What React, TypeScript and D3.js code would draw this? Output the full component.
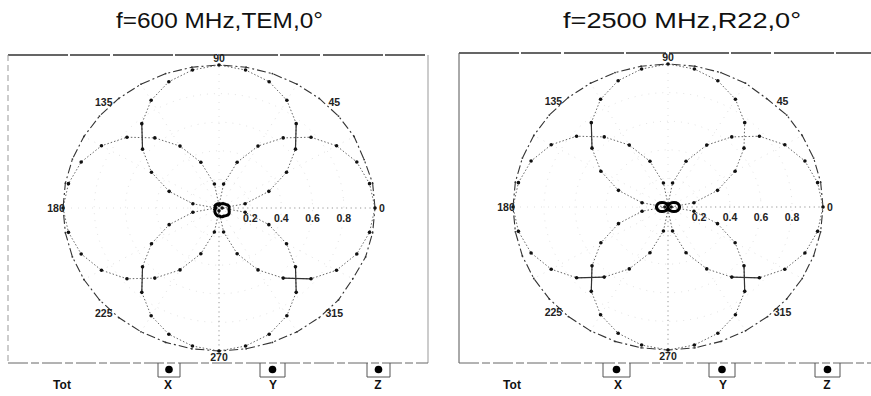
import React from "react";
import * as d3 from "d3";

const ANGLES = [0, 10, 20, 30, 40, 50, 60, 70, 80, 90, 100, 110, 120, 130, 140, 150, 160, 170,
  180, 190, 200, 210, 220, 230, 240, 250, 260, 270, 280, 290, 300, 310, 320, 330, 340, 350];

const TOT_600 = [1.0, 1.0, 0.99, 1.0, 1.0, 1.0, 1.0, 1.0, 1.0, 1.0, 1.0, 1.0, 1.0, 1.0, 1.0, 1.0, 1.0, 1.0,
  1.0, 1.0, 1.0, 1.0, 1.0, 1.0, 1.0, 1.0, 1.0, 1.0, 1.0, 1.0, 1.0, 1.0, 1.0, 0.99, 1.0, 1.0];
const X_600 = [1.0, 0.98, 0.94, 0.87, 0.77, 0.64, 0.5, 0.34, 0.17, 0.02, 0.17, 0.34, 0.5, 0.64, 0.77, 0.87, 0.94, 0.98,
  1.0, 0.98, 0.94, 0.87, 0.77, 0.64, 0.5, 0.34, 0.17, 0.02, 0.17, 0.34, 0.5, 0.64, 0.77, 0.87, 0.94, 0.98];
const Y_600 = [0.02, 0.17, 0.34, 0.5, 0.64, 0.77, 0.87, 0.94, 0.98, 1.0, 0.98, 0.94, 0.87, 0.77, 0.64, 0.5, 0.34, 0.17,
  0.02, 0.17, 0.34, 0.5, 0.64, 0.77, 0.87, 0.94, 0.98, 1.0, 0.98, 0.94, 0.87, 0.77, 0.64, 0.5, 0.34, 0.17];
const Z_600 = [0.065, 0.065, 0.06, 0.05, 0.045, 0.04, 0.035, 0.03, 0.03, 0.03, 0.03, 0.03, 0.03, 0.03, 0.03, 0.03, 0.025, 0.025,
  0.025, 0.025, 0.03, 0.03, 0.035, 0.04, 0.045, 0.05, 0.055, 0.055, 0.06, 0.065, 0.065, 0.07, 0.075, 0.075, 0.07, 0.065];

const TOT_2500 = [1.0, 1.0, 1.0, 1.0, 1.0, 0.99, 1.0, 1.0, 1.0, 1.0, 1.0, 1.0, 1.0, 1.0, 1.0, 1.0, 1.0, 1.0,
  1.0, 1.0, 1.0, 1.0, 1.0, 1.0, 1.0, 1.0, 1.0, 1.0, 1.0, 1.0, 1.0, 1.0, 1.0, 1.0, 1.0, 1.0];
const X_2500 = [1.0, 0.98, 0.94, 0.87, 0.77, 0.64, 0.5, 0.34, 0.17, 0.02, 0.17, 0.34, 0.5, 0.64, 0.77, 0.87, 0.94, 0.98,
  1.0, 0.98, 0.94, 0.87, 0.77, 0.64, 0.5, 0.34, 0.17, 0.02, 0.17, 0.34, 0.5, 0.64, 0.77, 0.87, 0.94, 0.98];
const Y_2500 = [0.02, 0.17, 0.34, 0.5, 0.64, 0.77, 0.87, 0.94, 0.98, 1.0, 0.98, 0.94, 0.87, 0.77, 0.64, 0.5, 0.34, 0.17,
  0.02, 0.17, 0.34, 0.5, 0.64, 0.77, 0.87, 0.94, 0.98, 1.0, 0.98, 0.94, 0.87, 0.77, 0.64, 0.5, 0.34, 0.17];
const Z_2500 = [0.075, 0.073, 0.068, 0.06, 0.05, 0.04, 0.03, 0.02, 0.01, 0.004, 0.01, 0.02, 0.03, 0.04, 0.05, 0.06, 0.068, 0.073,
  0.075, 0.073, 0.068, 0.06, 0.05, 0.04, 0.03, 0.02, 0.01, 0.004, 0.01, 0.02, 0.03, 0.04, 0.05, 0.06, 0.068, 0.073];

// angular spans (start angle index) drawn as solid strokes in the scan
const SOLID_X_600 = [31];
const SOLID_Y_600 = [4, 13, 22, 31];
const SOLID_X_2500 = [22, 31];
const SOLID_Y_2500 = [13, 22, 31];

const ANGLE_LABELS = [0, 45, 90, 135, 180, 225, 270, 315];
const RADIAL_TICKS = [0.2, 0.4, 0.6, 0.8];
const GRID_RINGS = [0.2, 0.4, 0.6, 0.8];
const SPOKES = [0, 30, 60, 90, 120, 150, 180, 210, 240, 270, 300, 330];
const TITLES = ["f=600 MHz,TEM,0°", "f=2500 MHz,R22,0°"];
const LEGEND_LABELS = ["Tot", "X", "Y", "Z"];

type PanelProps = {
  title: string;
  tot: number[];
  xs: number[];
  ys: number[];
  zs: number[];
  solidX: number[];
  solidY: number[];
  cx: number;
  cy: number;
  rx: number;
  ry: number;
  frame: [number, number, number, number];
  leftSolid: boolean;
  titleX: number;
  titleLen: number;
  legendX: number[];
  boxes: [number, number][];
};

const FONT = "'Liberation Sans', Arial, sans-serif";

function Panel(p: PanelProps) {
  const ang = d3.scaleLinear().domain([0, 360]).range([0, 2 * Math.PI]);
  const sx = d3.scaleLinear().domain([0, 1]).range([0, p.rx]);
  const sy = d3.scaleLinear().domain([0, 1]).range([0, p.ry]);
  const px = (a: number, r: number) => p.cx + sx(r) * Math.cos(ang(a));
  const py = (a: number, r: number) => p.cy - sy(r) * Math.sin(ang(a));
  const line = d3
    .line<[number, number]>()
    .x((d) => px(d[0], d[1]))
    .y((d) => py(d[0], d[1]))
    .curve(d3.curveLinearClosed);
  const openLine = d3
    .line<[number, number]>()
    .x((d) => px(d[0], d[1]))
    .y((d) => py(d[0], d[1]));
  const pts = (vals: number[]) => ANGLES.map((a, i) => [a, vals[i]] as [number, number]);
  const ringLine = (r: number) =>
    d3
      .line<number>()
      .x((a) => px(a, r))
      .y((a) => py(a, r))
      .curve(d3.curveCardinalClosed)(d3.range(0, 360, 5));

  const [fx0, fy0, fx1, fy1] = p.frame;
  const boxTop = fy1;
  const series: [number[], number[]][] = [
    [p.xs, p.solidX],
    [p.ys, p.solidY],
  ];
  return (
    <g>
      <text x={p.titleX} y={28} fontFamily={FONT} fontSize={22} textLength={p.titleLen} lengthAdjust="spacingAndGlyphs" fill="#111">
        {p.title}
      </text>
      {/* frame */}
      <line x1={fx0} y1={fy0} x2={fx1} y2={fy0} stroke="#333" strokeWidth={1.3} strokeDasharray="60,2,40,3" />
      <line x1={fx0} y1={fy0} x2={fx0} y2={fy1} stroke={p.leftSolid ? "#555" : "#999"} strokeWidth={1}
        strokeDasharray={p.leftSolid ? undefined : "6,4"} />
      <line x1={fx1} y1={fy0} x2={fx1} y2={fy1} stroke="#999" strokeWidth={1} />
      <line x1={fx0} y1={fy1} x2={fx1} y2={fy1} stroke="#666" strokeWidth={1} strokeDasharray="20,3,8,3" />
      {/* grid */}
      {GRID_RINGS.map((r) => (
        <path key={r} d={ringLine(r) || ""} fill="none" stroke="#dcdcdc" strokeWidth={0.8} strokeDasharray="1,6" />
      ))}
      {SPOKES.map((a) => (
        <line key={a} x1={p.cx} y1={p.cy} x2={px(a, 1)} y2={py(a, 1)}
          stroke={a === 0 || a === 270 ? "#888" : "#dcdcdc"} strokeWidth={0.9}
          strokeDasharray={a === 0 || a === 270 ? "1.2,3.5" : "1,6"} />
      ))}
      {RADIAL_TICKS.map((r) => (
        <text key={r} x={px(0, r)} y={p.cy + 14} textAnchor="middle" fontFamily={FONT} fontSize={10.5} fontWeight="bold" fill="#222">
          {r.toFixed(1)}
        </text>
      ))}
      {/* Tot */}
      <path d={line(pts(p.tot)) || ""} fill="none" stroke="#333" strokeWidth={1.1} strokeDasharray="9,3,2,3" />
      {pts(p.tot).map(([a, r]) => (
        <circle key={"t" + a} cx={px(a, r)} cy={py(a, r)} r={0.9} fill="#333" />
      ))}
      {/* X, Y */}
      {series.map(([vals, solids], k) => (
        <g key={k}>
          <path d={line(pts(vals)) || ""} fill="none" stroke="#666" strokeWidth={1} strokeDasharray="1.5,2" />
          {solids.map((i) => (
            <path key={"s" + i} d={openLine([pts(vals)[i], pts(vals)[(i + 1) % ANGLES.length]]) || ""} fill="none" stroke="#333" strokeWidth={1.2} />
          ))}
          {pts(vals).map(([a, r]) => (
            <circle key={a} cx={px(a, r)} cy={py(a, r)} r={1.8} fill="#111" />
          ))}
        </g>
      ))}
      {/* Z */}
      <path d={line(pts(p.zs)) || ""} fill="none" stroke="#000" strokeWidth={3} />
      {/* angle labels */}
      {ANGLE_LABELS.map((a) => (
        <text key={a} x={px(a, 1.045)} y={py(a, 1.045)} dy="0.35em" textAnchor="middle" fontFamily={FONT} fontSize={10.5} fontWeight="bold" fill="#222">
          {a}
        </text>
      ))}
      {/* legend */}
      {p.boxes.map(([b0, b1], i) => (
        <g key={i}>
          <path d={`M${b0},${boxTop} V${boxTop + 14} H${b1} V${boxTop}`} fill="none" stroke="#555" strokeWidth={1} />
          <circle cx={(b0 + b1) / 2} cy={boxTop + 6.5} r={3.8} fill="#000" />
        </g>
      ))}
      {LEGEND_LABELS.map((t, i) => (
        <text key={t} x={p.legendX[i]} y={389} textAnchor="middle" fontFamily={FONT} fontSize={12} fontWeight="bold" fill="#111">
          {t}
        </text>
      ))}
    </g>
  );
}

export default function App() {
  return (
    <svg width={871} height={396} style={{ position: "absolute", left: 0, top: 0, background: "#fff" }}>
      <rect x={0} y={0} width={871} height={396} fill="#fff" />
      <Panel
        title={TITLES[0]}
        tot={TOT_600}
        xs={X_600}
        ys={Y_600}
        zs={Z_600}
        solidX={SOLID_X_600}
        solidY={SOLID_Y_600}
        cx={219}
        cy={208}
        rx={156}
        ry={143}
        frame={[8, 55, 428, 363]}
        leftSolid={false}
        titleX={116}
        titleLen={207}
        legendX={[62, 168, 273, 378]}
        boxes={[[158, 180], [260, 285], [367, 390]]}
      />
      <Panel
        title={TITLES[1]}
        tot={TOT_2500}
        xs={X_2500}
        ys={Y_2500}
        zs={Z_2500}
        solidX={SOLID_X_2500}
        solidY={SOLID_Y_2500}
        cx={668}
        cy={207}
        rx={155}
        ry={143}
        frame={[459, 53, 880, 363]}
        leftSolid={true}
        titleX={563}
        titleLen={238}
        legendX={[512, 618, 723, 827]}
        boxes={[[603, 630], [709, 735], [815, 840]]}
      />
    </svg>
  );
}
